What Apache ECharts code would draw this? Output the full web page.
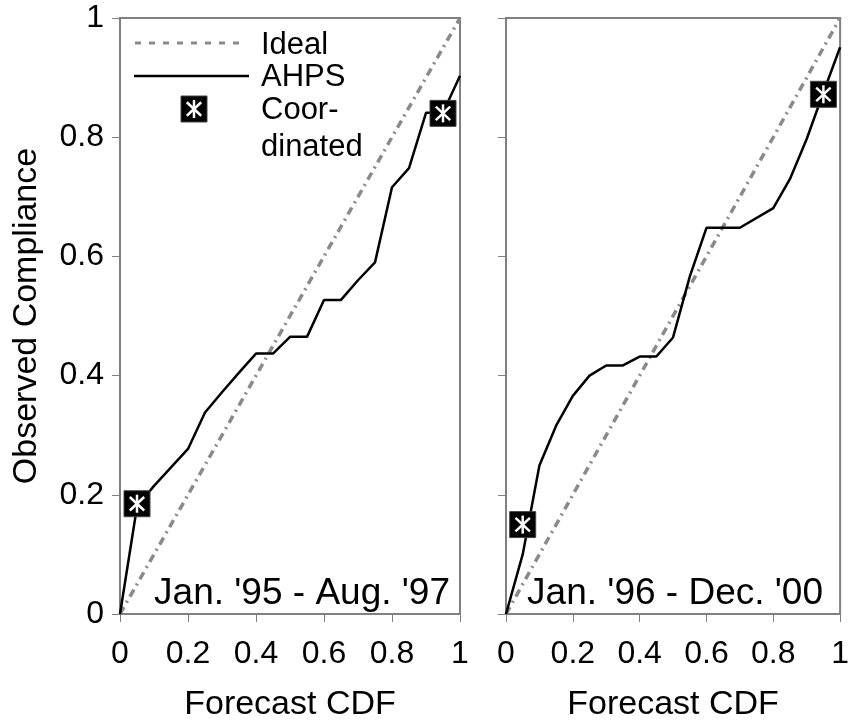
<!DOCTYPE html>
<html><head><meta charset="utf-8">
<script src="https://cdn.jsdelivr.net/npm/echarts@6/dist/echarts.min.js"></script>
<style>html,body{margin:0;padding:0;background:#fff;overflow:hidden}#c{width:852px;height:727px}</style>
</head><body><div id="c"></div>
<script>
// ---- data ----
const tickValues = [0, 0.2, 0.4, 0.6, 0.8, 1];
const tickLabels = ['0', '0.2', '0.4', '0.6', '0.8', '1'];
const idealX = [0, 1];
const idealY = [0, 1];
const leftX = [0, 0.05, 0.1, 0.2, 0.25, 0.3, 0.35, 0.4, 0.45, 0.5, 0.55, 0.6, 0.65, 0.7, 0.75, 0.8, 0.85, 0.9, 0.95, 1];
const leftY = [0, 0.18, 0.215, 0.277, 0.338, 0.372, 0.405, 0.437, 0.437, 0.465, 0.465, 0.527, 0.527, 0.56, 0.59, 0.716, 0.748, 0.841, 0.841, 0.903];
const rightX = [0, 0.05, 0.1, 0.15, 0.2, 0.25, 0.3, 0.35, 0.4, 0.45, 0.5, 0.55, 0.6, 0.7, 0.8, 0.85, 0.9, 0.95, 1];
const rightY = [0, 0.10, 0.249, 0.316, 0.366, 0.4, 0.417, 0.417, 0.432, 0.432, 0.464, 0.566, 0.648, 0.648, 0.681, 0.73, 0.797, 0.875, 0.951];
const coordLeftX = [0.05, 0.95];
const coordLeftY = [0.185, 0.84];
const coordRightX = [0.05, 0.95];
const coordRightY = [0.15, 0.872];
const panelLabels = ["Jan. '95 - Aug. '97", "Jan. '96 - Dec. '00"];
const legendNames = ['Ideal', 'AHPS', 'Coor-', 'dinated'];

// ---- helpers ----
const FONT = '"Liberation Sans", Arial, Helvetica, sans-serif';
const zip = (xs, ys) => xs.map((x, i) => [x, ys[i]]);
const GRAY = '#808080';

function markerShapes(cx, cy) {
  const s = 13, a = 9;
  return [
    {type: 'rect', shape: {x: cx - s, y: cy - s, width: 2 * s, height: 2 * s}, style: {fill: '#000', stroke: '#444', lineWidth: 1}},
    {type: 'line', shape: {x1: cx, y1: cy - a, x2: cx, y2: cy + a}, style: {stroke: '#fff', lineWidth: 2.5}},
    {type: 'line', shape: {x1: cx - a * 0.8, y1: cy - a * 0.75, x2: cx + a * 0.8, y2: cy + a * 0.75}, style: {stroke: '#fff', lineWidth: 2.5}},
    {type: 'line', shape: {x1: cx - a * 0.8, y1: cy + a * 0.75, x2: cx + a * 0.8, y2: cy - a * 0.75}, style: {stroke: '#fff', lineWidth: 2.5}}
  ];
}
function renderMarker(params, api) {
  const p = api.coord([api.value(0), api.value(1)]);
  return {type: 'group', children: markerShapes(p[0], p[1])};
}

function xAxisCfg(gi) {
  return {
    type: 'value', gridIndex: gi, min: 0, max: 1, interval: 0.2,
    axisLine: {show: true, onZero: false, lineStyle: {color: GRAY, width: 2}},
    axisTick: {show: true, length: 8, lineStyle: {color: GRAY, width: 1}},
    axisLabel: {fontSize: 32, color: '#000', fontFamily: FONT, margin: 24,
      formatter: v => tickLabels[Math.round(v / 0.2)]},
    splitLine: {show: false},
    name: 'Forecast CDF', nameLocation: 'middle', nameGap: 74,
    nameTextStyle: {fontSize: 34, color: '#000', fontFamily: FONT}
  };
}
function yAxisCfg(gi, showLabels) {
  const c = {
    type: 'value', gridIndex: gi, min: 0, max: 1, interval: 0.2,
    axisLine: {show: true, onZero: false, lineStyle: {color: GRAY, width: 2}},
    axisTick: {show: true, length: 8, lineStyle: {color: GRAY, width: 1}},
    axisLabel: {show: showLabels, fontSize: 32, color: '#000', fontFamily: FONT, margin: 16,
      formatter: v => tickLabels[Math.round(v / 0.2)]},
    splitLine: {show: false}
  };
  if (showLabels) {
    c.name = 'Observed Compliance';
    c.nameLocation = 'middle';
    c.nameGap = 76;
    c.nameTextStyle = {fontSize: 34, color: '#000', fontFamily: FONT};
  }
  return c;
}

const chart = echarts.init(document.getElementById('c'), null, {renderer: 'canvas'});
const legendText = (t, y) => ({type: 'text', left: 261, top: y - 16, z: 100,
  style: {text: t, fontSize: 31, fontFamily: FONT, fill: '#000'}});

const option = {
  animation: false,
  backgroundColor: '#fff',
  grid: [
    {left: 120, top: 18, width: 340, height: 600, show: true, borderColor: GRAY, borderWidth: 2, backgroundColor: 'transparent'},
    {left: 506, top: 18, width: 340, height: 600, show: true, borderColor: GRAY, borderWidth: 2, backgroundColor: 'transparent'}
  ],
  xAxis: [xAxisCfg(0), xAxisCfg(1)],
  yAxis: [yAxisCfg(0, true), yAxisCfg(1, false)],
  series: [
    {name: legendNames[0], type: 'line', xAxisIndex: 0, yAxisIndex: 0, data: zip(idealX, idealY), symbol: 'none',
      lineStyle: {color: '#8a8a8a', width: 3.5, type: [8, 5, 2, 5]}, z: 2},
    {name: legendNames[1], type: 'line', xAxisIndex: 0, yAxisIndex: 0, data: zip(leftX, leftY), symbol: 'none',
      lineStyle: {color: '#000', width: 2.5}, z: 3},
    {name: 'Coordinated', type: 'custom', xAxisIndex: 0, yAxisIndex: 0, data: zip(coordLeftX, coordLeftY),
      renderItem: renderMarker, clip: false, z: 4},
    {name: legendNames[0], type: 'line', xAxisIndex: 1, yAxisIndex: 1, data: zip(idealX, idealY), symbol: 'none',
      lineStyle: {color: '#8a8a8a', width: 3.5, type: [8, 5, 2, 5]}, z: 2},
    {name: legendNames[1], type: 'line', xAxisIndex: 1, yAxisIndex: 1, data: zip(rightX, rightY), symbol: 'none',
      lineStyle: {color: '#000', width: 2.5}, z: 3},
    {name: 'Coordinated', type: 'custom', xAxisIndex: 1, yAxisIndex: 1, data: zip(coordRightX, coordRightY),
      renderItem: renderMarker, clip: false, z: 4}
  ],
  graphic: [
    // legend
    {type: 'line', shape: {x1: 135, y1: 43, x2: 247, y2: 43}, z: 100,
      style: {stroke: '#8a8a8a', lineWidth: 3, lineDash: [6, 8]}},
    {type: 'line', shape: {x1: 134, y1: 76, x2: 249, y2: 76}, z: 100,
      style: {stroke: '#000', lineWidth: 2.5}},
    {type: 'group', z: 100, children: markerShapes(194, 109)},
    legendText(legendNames[0], 46),
    legendText(legendNames[1], 78),
    legendText(legendNames[2], 111),
    legendText(legendNames[3], 148),
    // panel labels
    {type: 'text', right: 852 - 450, top: 575, z: 100,
      style: {text: panelLabels[0], fontSize: 37, fontFamily: FONT, fill: '#000'}},
    {type: 'text', right: 852 - 823, top: 575, z: 100,
      style: {text: panelLabels[1], fontSize: 37, fontFamily: FONT, fill: '#000'}}
  ]
};
chart.setOption(option);
</script>
</body></html>
